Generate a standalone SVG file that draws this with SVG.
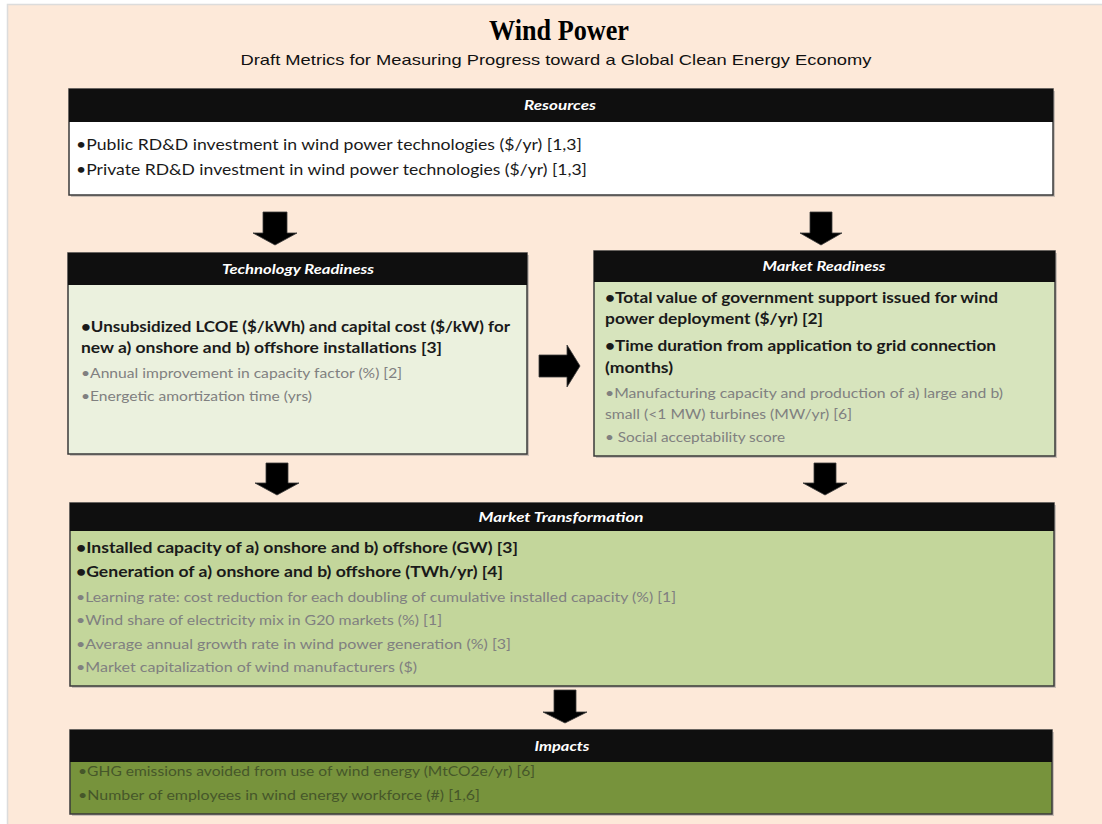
<svg xmlns="http://www.w3.org/2000/svg" width="1102" height="824" viewBox="0 0 1102 824">
  <defs>
    <style>
      .page { fill: #fde9d9; stroke: #dcdcdc; stroke-width: 1.5; }
      .box { stroke: #3a3a3a; stroke-width: 1.5; }
      .shadow { fill: #8c8c8c; opacity: 0.45; }
      .head { fill: #0f0f0f; }
      .htxt { font-family: "Lato", "Liberation Sans", sans-serif; font-weight: bold; font-style: italic; font-size: 13px; fill: #ffffff; text-anchor: middle; }
      .b { font-family: "Lato", "Liberation Sans", sans-serif; font-weight: bold; font-size: 15px; fill: #1a1a1a; }
      .r { font-family: "Lato", "Liberation Sans", sans-serif; font-size: 15px; fill: #1a1a1a; }
      .g { font-family: "Lato", "Liberation Sans", sans-serif; font-size: 13px; fill: #808080; }
      .imp { font-family: "Lato", "Liberation Sans", sans-serif; font-size: 13px; fill: #46572a; }
      .arrow { fill: #000000; stroke: #3a3a3a; stroke-width: 0.8; stroke-linejoin: miter; }
    </style>
  </defs>

  <!-- page -->
  <rect x="0" y="0" width="1102" height="824" fill="#ffffff"/>
  <rect class="page" x="7.5" y="4.5" width="1100" height="825"/>

  <!-- title block -->
  <g id="title">
    <text x="559" y="40" text-anchor="middle" font-family="Liberation Serif, serif" font-weight="bold" font-size="29" textLength="140" lengthAdjust="spacingAndGlyphs" fill="#000000">Wind Power</text>
    <text x="556" y="65" text-anchor="middle" font-family="Liberation Sans, Arial, sans-serif" font-size="15" textLength="631" lengthAdjust="spacingAndGlyphs" fill="#111111">Draft Metrics for Measuring Progress toward a Global Clean Energy Economy</text>
  </g>

  <!-- Resources -->
  <g id="resources">
    <rect class="shadow" x="71" y="91" width="984" height="106"/>
    <rect class="box" x="69" y="89" width="984" height="106" fill="#ffffff"/>
    <rect class="head" x="69" y="89" width="984" height="33"/>
    <text class="htxt" x="560" y="110" textLength="72" lengthAdjust="spacingAndGlyphs">Resources</text>
    <text class="r" x="76" y="150" textLength="506" lengthAdjust="spacingAndGlyphs">•Public RD&amp;D investment in wind power technologies ($/yr) [1,3]</text>
    <text class="r" x="76" y="175" textLength="511" lengthAdjust="spacingAndGlyphs">•Private RD&amp;D investment in wind power technologies ($/yr) [1,3]</text>
  </g>

  <!-- Technology Readiness -->
  <g id="technology-readiness">
    <rect class="shadow" x="70" y="255" width="459" height="201"/>
    <rect class="box" x="68" y="253" width="459" height="201" fill="#ebf1de"/>
    <rect class="head" x="68" y="253" width="459" height="32"/>
    <text class="htxt" x="298" y="274" textLength="152" lengthAdjust="spacingAndGlyphs">Technology Readiness</text>
    <text class="b" x="81" y="332" textLength="429" lengthAdjust="spacingAndGlyphs">•Unsubsidized LCOE ($/kWh) and capital cost ($/kW) for</text>
    <text class="b" x="81" y="353" textLength="361" lengthAdjust="spacingAndGlyphs">new a) onshore and b) offshore installations [3]</text>
    <text class="g" x="81" y="378" textLength="321" lengthAdjust="spacingAndGlyphs">•Annual improvement in capacity factor (%) [2]</text>
    <text class="g" x="81" y="401" textLength="231" lengthAdjust="spacingAndGlyphs">•Energetic amortization time (yrs)</text>
  </g>

  <!-- Market Readiness -->
  <g id="market-readiness">
    <rect class="shadow" x="596" y="253" width="461" height="205"/>
    <rect class="box" x="594" y="251" width="461" height="205" fill="#d7e4bd"/>
    <rect class="head" x="594" y="251" width="461" height="31"/>
    <text class="htxt" x="824" y="271" textLength="123" lengthAdjust="spacingAndGlyphs">Market Readiness</text>
    <text class="b" x="605" y="303" textLength="393" lengthAdjust="spacingAndGlyphs">•Total value of government support issued for wind</text>
    <text class="b" x="605" y="324" textLength="218" lengthAdjust="spacingAndGlyphs">power deployment ($/yr) [2]</text>
    <text class="b" x="605" y="351" textLength="391" lengthAdjust="spacingAndGlyphs">•Time duration from application to grid connection</text>
    <text class="b" x="605" y="373" textLength="68" lengthAdjust="spacingAndGlyphs">(months)</text>
    <text class="g" x="605" y="398" textLength="398" lengthAdjust="spacingAndGlyphs">•Manufacturing capacity and production of a) large and b)</text>
    <text class="g" x="605" y="419" textLength="247" lengthAdjust="spacingAndGlyphs">small (&lt;1 MW) turbines (MW/yr) [6]</text>
    <text class="g" x="605" y="442" textLength="180" lengthAdjust="spacingAndGlyphs">• Social acceptability score</text>
  </g>

  <!-- Market Transformation -->
  <g id="market-transformation">
    <rect class="shadow" x="72" y="505" width="984" height="183"/>
    <rect class="box" x="70" y="503" width="984" height="183" fill="#c3d69b"/>
    <rect class="head" x="70" y="503" width="984" height="28"/>
    <text class="htxt" x="561" y="522" textLength="165" lengthAdjust="spacingAndGlyphs">Market Transformation</text>
    <text class="b" x="76" y="553" font-size="14" textLength="442" lengthAdjust="spacingAndGlyphs">•Installed capacity of a) onshore and b) offshore (GW) [3]</text>
    <text class="b" x="76" y="577" font-size="14" textLength="427" lengthAdjust="spacingAndGlyphs">•Generation of a) onshore and b) offshore (TWh/yr) [4]</text>
    <text class="g" x="76" y="602" textLength="600" lengthAdjust="spacingAndGlyphs">•Learning rate: cost reduction for each doubling of cumulative installed capacity (%) [1]</text>
    <text class="g" x="76" y="625" textLength="366" lengthAdjust="spacingAndGlyphs">•Wind share of electricity mix in G20 markets (%) [1]</text>
    <text class="g" x="76" y="649" textLength="435" lengthAdjust="spacingAndGlyphs">•Average annual growth rate in wind power generation (%) [3]</text>
    <text class="g" x="76" y="672" textLength="341" lengthAdjust="spacingAndGlyphs">•Market capitalization of wind manufacturers ($)</text>
  </g>

  <!-- Impacts -->
  <g id="impacts">
    <rect class="shadow" x="72" y="732" width="982" height="84"/>
    <rect class="box" x="70" y="730" width="982" height="84" fill="#77933c"/>
    <rect class="head" x="70" y="730" width="982" height="32"/>
    <text class="htxt" x="562" y="751" textLength="55" lengthAdjust="spacingAndGlyphs">Impacts</text>
    <text class="imp" x="78" y="776" textLength="457" lengthAdjust="spacingAndGlyphs">•GHG emissions avoided from use of wind energy (MtCO2e/yr) [6]</text>
    <text class="imp" x="78" y="800" textLength="402" lengthAdjust="spacingAndGlyphs">•Number of employees in wind energy workforce (#) [1,6]</text>
  </g>

  <!-- block arrows between stages -->
  <g id="connectors">
    <polygon class="arrow" points="263,212 287,212 287,233 297,233 275,245 253,233 263,233"/>
    <polygon class="arrow" points="810,212 832,212 832,233 842,233 821,245 800,233 810,233"/>
    <polygon class="arrow" points="539,355 567,355 567,345 580,366 567,387 567,377 539,377"/>
    <polygon class="arrow" points="266,463 288,463 288,483 299,483 277,495 255,483 266,483"/>
    <polygon class="arrow" points="814,463 836,463 836,483 847,483 825,495 803,483 814,483"/>
    <polygon class="arrow" points="554,690 576,690 576,712 587,712 565,723 543,712 554,712"/>
  </g>
</svg>
